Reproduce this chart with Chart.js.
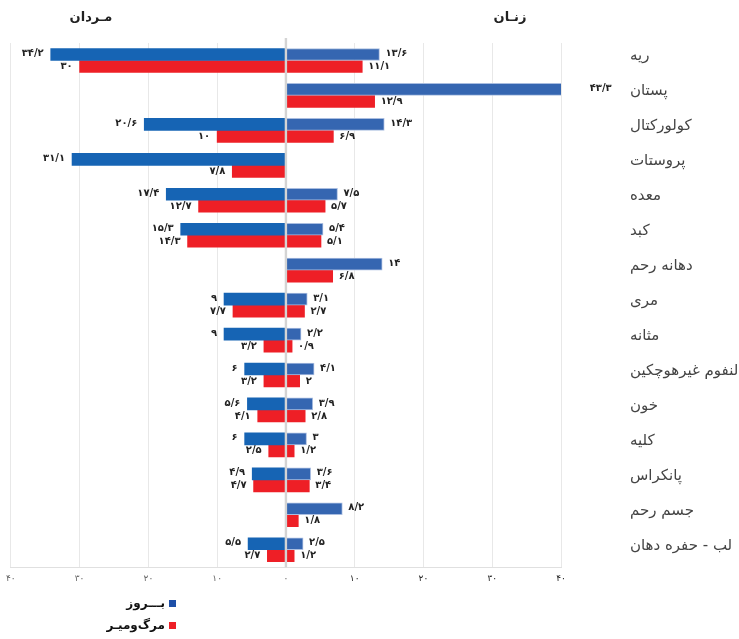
<!DOCTYPE html>
<html>
<head>
<meta charset="utf-8">
<script src="https://cdn.jsdelivr.net/npm/chart.js@4"></script>
<style>
  body { margin: 0; background: #fff; }
  #wrap { position: relative; width: 739px; height: 639px; }
  .side { position: absolute; font: bold 13px "DejaVu Sans"; color: #222; direction: rtl; transform: translateX(-50%); white-space: nowrap; }
  .legend { position: absolute; left: 100px; font: bold 12px "DejaVu Sans"; color: #111; direction: rtl; }
  .legend div { height: 22px; display: flex; align-items: center; justify-content: flex-start; width: 76px; }
  .legend span.sw { display: inline-block; width: 7px; height: 7px; margin-left: 4px; }
</style>
</head>
<body>
<div id="wrap">
  <canvas id="cancer-plot"></canvas>
  <div class="side" style="left:91px; top:9px;">مـردان</div>
  <div class="side" style="left:510px; top:9px;">زنـان</div>
  <div class="legend" style="top:592px;">
    <div><span class="sw" style="background:#1d4fa8"></span>بـــروز</div>
    <div><span class="sw" style="background:#ee1f26"></span>مرگ‌ومیـر</div>
  </div>
</div>
<script>
const cancers = ['ریه', 'پستان', 'کولورکتال', 'پروستات', 'معده', 'کبد', 'دهانه رحم', 'مری',
  'مثانه', 'لنفوم غیرهوچکین', 'خون', 'کلیه', 'پانکراس', 'جسم رحم', 'لب - حفره دهان'];

// rates per 100,000 — men go to the left
const menIncidence  = [34.2, null, 20.6, 31.1, 17.4, 15.3, null, 9, 9, 6, 5.6, 6, 4.9, null, 5.5];
const menMortality  = [30, null, 10, 7.8, 12.7, 14.3, null, 7.7, 3.2, 3.2, 4.1, 2.5, 4.7, null, 2.7];
const womenIncidence = [13.6, 43.3, 14.3, null, 7.5, 5.4, 14, 3.1, 2.2, 4.1, 3.9, 3, 3.6, 8.2, 2.5];
const womenMortality = [11.1, 12.9, 6.9, null, 5.7, 5.1, 6.8, 2.7, 0.9, 2, 2.8, 1.2, 3.4, 1.8, 1.2];

const axisTicks = [-40, -30, -20, -10, 0, 10, 20, 30, 40];

const faDigits = '۰۱۲۳۴۵۶۷۸۹';
function toFa(n) {
  return String(n).replace('.', '/').replace(/\d/g, d => faDigits[d]);
}

const neg = arr => arr.map(v => v === null ? null : -v);

// value labels next to every bar end
const valueLabels = {
  id: 'valueLabels',
  afterDatasetsDraw(chart) {
    const ctx = chart.ctx;
    ctx.save();
    ctx.font = 'bold 10px "DejaVu Sans"';
    ctx.fillStyle = '#222';
    ctx.textBaseline = 'middle';
    chart.data.datasets.forEach((ds, i) => {
      const meta = chart.getDatasetMeta(i);
      meta.data.forEach((bar, j) => {
        const v = ds.data[j];
        if (v === null) return;
        const dy = ds.stack === 'inc' ? -1 : 0;
        if (v < 0) {
          ctx.textAlign = 'right';
          ctx.fillText(toFa(-v), bar.x - 7, bar.y + dy);
        } else {
          ctx.textAlign = 'left';
          ctx.fillText(toFa(v), bar.x + 6, bar.y + dy);
        }
      });
    });
    ctx.restore();
  }
};

// grey zero line drawn over the bars
const zeroLine = {
  id: 'zeroLine',
  afterDatasetsDraw(chart) {
    const x = chart.scales.x.getPixelForValue(0);
    const ctx = chart.ctx;
    ctx.save();
    ctx.strokeStyle = '#d4d4d4';
    ctx.lineWidth = 2.4;
    ctx.beginPath();
    ctx.moveTo(x, chart.chartArea.top - 5);
    ctx.lineTo(x, chart.chartArea.bottom);
    ctx.stroke();
    ctx.restore();
  }
};

new Chart(document.getElementById('cancer-plot'), {
  type: 'bar',
  data: {
    labels: cancers,
    datasets: [
      { label: 'بروز مردان', data: neg(menIncidence), stack: 'inc', backgroundColor: '#1664b4', borderWidth: 0 },
      { label: 'بروز زنان', data: womenIncidence, stack: 'inc', backgroundColor: '#3566b1', borderColor: '#a9bde0', borderWidth: 1, borderSkipped: 'start' },
      { label: 'مرگ‌ومیر مردان', data: neg(menMortality), stack: 'mort', backgroundColor: '#ee1f26', borderWidth: 0 },
      { label: 'مرگ‌ومیر زنان', data: womenMortality, stack: 'mort', backgroundColor: '#ee1f26', borderWidth: 0 }
    ]
  },
  options: {
    indexAxis: 'y',
    responsive: true,
    maintainAspectRatio: false,
    animation: false,
    barThickness: 12,
    layout: { padding: { top: 43, left: 10, right: 0, bottom: 49 } },
    plugins: {
      legend: { display: false },
      tooltip: { enabled: false }
    },
    scales: {
      x: {
        stacked: true,
        min: axisTicks[0],
        max: axisTicks[axisTicks.length - 1],
        afterBuildTicks(scale) { scale.ticks = axisTicks.map(v => ({ value: v })); },
        ticks: {
          padding: 6,
          font: { family: 'DejaVu Sans', size: 9 },
          color: c => c.tick && c.tick.value > 0 ? '#222' : '#666',
          callback: v => toFa(Math.abs(v))
        },
        grid: { color: '#e8e8e8', drawTicks: false },
        border: { display: true, color: '#e0e0e0' }
      },
      y: {
        position: 'right',
        afterFit(scale) { scale.width = 178; },
        ticks: {
          padding: 5,
          labelOffset: -4,
          font: { family: 'DejaVu Sans', size: 15 },
          color: '#444'
        },
        // invisible tick marks push the labels away from the plot
        grid: { display: true, color: 'transparent', drawOnChartArea: false, drawTicks: true, tickLength: 64 },
        border: { display: false }
      }
    }
  },
  plugins: [zeroLine, valueLabels]
});
</script>
</body>
</html>
